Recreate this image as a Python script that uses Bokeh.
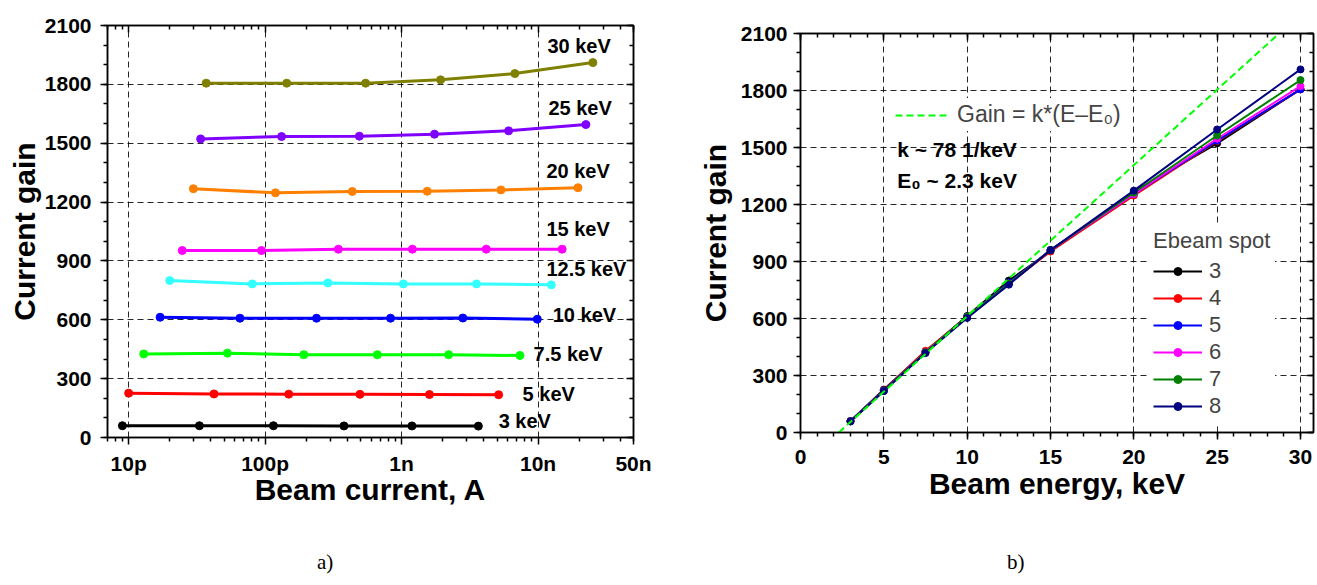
from bokeh.plotting import figure
from bokeh.layouts import row, column
from bokeh.models import (FixedTicker, LogAxis, LinearAxis, CustomJSTickFormatter,
                          Legend, LegendItem, Label, Div, ColumnDataSource, Range1d)
from bokeh.core.properties import value
from bokeh.embed import file_html
from bokeh.resources import INLINE

# ---------------- data ----------------
ENERGIES_KEV = [3, 5, 7.5, 10, 12.5, 15, 20, 25, 30]
ENERGY_LABELS = ["3 keV", "5 keV", "7.5 keV", "10 keV", "12.5 keV",
                 "15 keV", "20 keV", "25 keV", "30 keV"]
SPOTS = ["3", "4", "5", "6", "7", "8"]

# beam current (A) for spots 3..8 at each energy, and the current gain
CURRENT_3KEV = [9.0e-12, 3.3e-11, 1.15e-10, 3.78e-10, 1.19e-9, 3.65e-9]
GAIN_3KEV = [60, 60, 60, 59, 59, 58]
CURRENT_5KEV = [1.0e-11, 4.22e-11, 1.49e-10, 4.95e-10, 1.6e-9, 5.14e-9]
GAIN_5KEV = [226, 222, 221, 220, 219, 218]
CURRENT_7P5KEV = [1.29e-11, 5.29e-11, 1.92e-10, 6.64e-10, 2.21e-9, 7.36e-9]
GAIN_7P5KEV = [426, 430, 422, 422, 422, 418]
CURRENT_10KEV = [1.70e-11, 6.54e-11, 2.38e-10, 8.3e-10, 2.81e-9, 9.87e-9]
GAIN_10KEV = [613, 608, 608, 608, 609, 603]
CURRENT_12P5KEV = [2.0e-11, 8.06e-11, 2.88e-10, 1.03e-9, 3.54e-9, 1.25e-8]
GAIN_12P5KEV = [800, 783, 788, 783, 783, 778]
CURRENT_15KEV = [2.47e-11, 9.4e-11, 3.44e-10, 1.2e-9, 4.17e-9, 1.5e-8]
GAIN_15KEV = [953, 953, 960, 960, 960, 960]
CURRENT_20KEV = [2.98e-11, 1.19e-10, 4.35e-10, 1.54e-9, 5.34e-9, 1.96e-8]
GAIN_20KEV = [1268, 1247, 1254, 1255, 1262, 1273]
CURRENT_25KEV = [3.37e-11, 1.32e-10, 4.9e-10, 1.74e-9, 6.08e-9, 2.24e-8]
GAIN_25KEV = [1522, 1534, 1536, 1546, 1563, 1595]
CURRENT_30KEV = [3.7e-11, 1.44e-10, 5.45e-10, 1.93e-9, 6.76e-9, 2.52e-8]
GAIN_30KEV = [1806, 1806, 1806, 1823, 1855, 1911]

CURRENTS = [CURRENT_3KEV, CURRENT_5KEV, CURRENT_7P5KEV, CURRENT_10KEV, CURRENT_12P5KEV,
            CURRENT_15KEV, CURRENT_20KEV, CURRENT_25KEV, CURRENT_30KEV]
GAINS = [GAIN_3KEV, GAIN_5KEV, GAIN_7P5KEV, GAIN_10KEV, GAIN_12P5KEV,
         GAIN_15KEV, GAIN_20KEV, GAIN_25KEV, GAIN_30KEV]

X_TICKS_A = [1e-11, 1e-10, 1e-9, 1e-8, 5e-8]
X_TICK_LABELS_A = ["10p", "100p", "1n", "10n", "50n"]
Y_TICKS = [0, 300, 600, 900, 1200, 1500, 1800, 2100]
X_TICKS_B = [0, 5, 10, 15, 20, 25, 30]

FIT_K = 79.5      # slope of the drawn guide line
FIT_E0 = 2.3
FIT_LABEL = "Gain = k*(E\u2013E\u2080)"
K_TEXT = "k ~ 78 1/keV"
E0_TEXT = "E\u2080 ~ 2.3 keV"
CAPTION_A = "a)"
CAPTION_B = "b)"

# ---------------- styles ----------------
ENERGY_COLORS = ["#000000", "#FF0000", "#00FF00", "#0000FF", "#33FFFF",
                 "#FF00FF", "#FF8000", "#8000FF", "#808000"]
SPOT_COLORS = ["#000000", "#FF0000", "#0000FF", "#FF00FF", "#008000", "#000080"]
# label anchor positions (left, middle) in data units of panel a)
LABEL_X = [5.14e-9, 7.7e-9, 9.27e-9, 1.28e-8, 1.15e-8, 1.15e-8, 1.15e-8, 1.19e-8, 1.17e-8]
LABEL_Y = [82, 224, 428, 622, 861, 1065, 1356, 1677, 1993]

FONT = "Liberation Sans"
TICK_FS = "21px"
TITLE_FS = "30px"


def style_axes(p):
    for ax in p.xaxis + p.yaxis:
        ax.major_label_text_font = FONT
        ax.major_label_text_font_style = "bold"
        ax.major_label_text_font_size = TICK_FS
        ax.major_label_text_color = "black"
        ax.axis_label_text_font = FONT
        ax.axis_label_text_font_style = "bold"
        ax.axis_label_text_font_size = TITLE_FS
        ax.axis_label_text_color = "black"
        ax.axis_line_color = "black"
        ax.axis_line_width = 1.5
        ax.major_tick_line_color = "black"
        ax.major_tick_line_width = 1.5
        ax.minor_tick_line_color = "black"
        ax.minor_tick_line_width = 1.5
        ax.major_tick_out = 7
        ax.major_tick_in = 0
        ax.minor_tick_out = 4
        ax.minor_tick_in = 0
    for g in (p.xgrid[0], p.ygrid[0]):
        g.grid_line_color = "black"
        g.grid_line_alpha = 0.85
        g.grid_line_dash = "6 4"
        g.grid_line_width = 1
    p.outline_line_color = "black"
    p.outline_line_width = 1.5
    p.background_fill_color = "white"
    p.border_fill_color = "white"


def mirror_axis(cls, ticker):
    ax = cls(ticker=ticker, major_label_text_font_size="0px", major_label_standoff=0,
             major_tick_in=7, major_tick_out=0, minor_tick_in=4, minor_tick_out=0,
             axis_line_color="black", axis_line_width=1.5,
             major_tick_line_width=1.5, minor_tick_line_width=1.5,
             formatter=CustomJSTickFormatter(code="return '';"))
    return ax


def caption(text, width, pad):
    html = ('<div style="padding-left:%dpx;font-family:\'Liberation Serif\',serif;'
            'font-size:21px;line-height:24px;color:#000;white-space:nowrap;">%s</div>' % (pad, text))
    return Div(text=html, width=width, height=30, margin=0)


H = 550

# ---------------- panel a ----------------
minor_a = [k * 10.0 ** e for e in range(-12, -7) for k in range(2, 10)
           if 7e-12 <= k * 10.0 ** e <= 5e-8]
xt_a = FixedTicker(ticks=X_TICKS_A, minor_ticks=minor_a)
yt = FixedTicker(ticks=Y_TICKS, minor_ticks=list(range(0, 2101, 100)))

p1 = figure(width=680, height=H, x_axis_type="log",
            x_range=Range1d(7e-12, 5e-8), y_range=Range1d(0, 2100),
            output_backend="svg", toolbar_location=None, frame_align=False,
            min_border_left=107, min_border_right=47, min_border_top=25,
            min_border_bottom=H - 437)
p1.xaxis.ticker = xt_a
p1.xaxis.formatter = CustomJSTickFormatter(args=dict(vals=X_TICKS_A, labs=X_TICK_LABELS_A), code="""
let best = 0, bd = Infinity;
for (let i = 0; i < vals.length; i++) {
  const d = Math.abs(Math.log10(tick) - Math.log10(vals[i]));
  if (d < bd) { bd = d; best = i; }
}
return labs[best];
""")
p1.yaxis.ticker = yt
p1.xaxis.axis_label = "Beam current, A"
p1.yaxis.axis_label = "Current gain"
style_axes(p1)
p1.xaxis.major_label_standoff = 7
p1.xaxis.axis_label_standoff = -5
p1.yaxis.major_label_standoff = 9
p1.yaxis.axis_label_standoff = 1
p1.add_layout(mirror_axis(LogAxis, xt_a), "above")
p1.add_layout(mirror_axis(LinearAxis, yt), "right")

for cur, gain, col in zip(CURRENTS, GAINS, ENERGY_COLORS):
    p1.line(cur, gain, line_color=col, line_width=3)
    p1.scatter(cur, gain, marker="circle", size=8, fill_color=col, line_color=col)

lab_src = ColumnDataSource(dict(x=LABEL_X, y=LABEL_Y, t=ENERGY_LABELS))
p1.text(x="x", y="y", text="t", source=lab_src, text_font=value(FONT),
        text_font_style="bold", text_font_size="20px", text_align="left",
        text_baseline="middle", text_color="black")

# ---------------- panel b ----------------
xt_b = FixedTicker(ticks=X_TICKS_B, minor_ticks=list(range(0, 31)))
p2 = figure(width=636, height=H, x_range=Range1d(0, 30.78), y_range=Range1d(0, 2100),
            output_backend="svg", toolbar_location=None, frame_align=False,
            min_border_left=120, min_border_right=3, min_border_top=33,
            min_border_bottom=H - 432)
p2.xaxis.ticker = xt_b
p2.yaxis.ticker = yt
p2.xaxis.axis_label = "Beam energy, keV"
p2.yaxis.axis_label = "Current gain"
style_axes(p2)
p2.xaxis.major_label_standoff = 10
p2.xaxis.axis_label_standoff = 0
p2.yaxis.major_label_standoff = 6
p2.yaxis.axis_label_standoff = 6
p2.add_layout(mirror_axis(LinearAxis, xt_b), "above")
p2.add_layout(mirror_axis(LinearAxis, yt), "right")

fit_x = [FIT_E0, FIT_E0 + 2300 / FIT_K]
fit_y = [FIT_K * (e - FIT_E0) for e in fit_x]

items = []
for j, (spot, col) in enumerate(zip(SPOTS, SPOT_COLORS)):
    ys = [g[j] for g in GAINS]
    r1 = p2.line(ENERGIES_KEV, ys, line_color=col, line_width=2)
    r2 = p2.scatter(ENERGIES_KEV, ys, marker="circle", size=7, fill_color=col, line_color=col)
    items.append(LegendItem(label=spot, renderers=[r1, r2]))

fit_r = p2.line(fit_x, fit_y, line_color="#00FF00", line_width=2, line_dash="7 4")

leg = Legend(items=items, location=(348, 8), title="Ebeam spot",
             title_text_font=FONT, title_text_font_style="normal", title_text_font_size="22px",
             label_text_font=FONT, label_text_font_size="22px",
             glyph_width=49, glyph_height=20, label_height=20, spacing=1,
             label_standoff=7, padding=5, margin=0, title_standoff=4,
             background_fill_color="white", background_fill_alpha=1, border_line_alpha=0)
p2.add_layout(leg)

fit_leg = Legend(items=[LegendItem(label=FIT_LABEL, renderers=[fit_r])], location=(92, 301),
                 label_text_font=FONT, label_text_font_size="23px",
                 glyph_width=53, glyph_height=20, label_height=20, label_standoff=9,
                 padding=3, margin=0,
                 background_fill_color="white", background_fill_alpha=1, border_line_alpha=0)
p2.add_layout(fit_leg)

p2.add_layout(Label(x=5.8, y=1487, text=K_TEXT, text_font=FONT, text_font_style="bold",
                    text_font_size="21px", text_baseline="middle", text_color="black"))
p2.add_layout(Label(x=5.8, y=1324, text=E0_TEXT, text_font=FONT, text_font_style="bold",
                    text_font_size="21px", text_baseline="middle", text_color="black"))

layout = column(row(p1, p2), row(caption(CAPTION_A, 680, 317), caption(CAPTION_B, 636, 327)))
open("out.html", "w").write(file_html(layout, INLINE))
